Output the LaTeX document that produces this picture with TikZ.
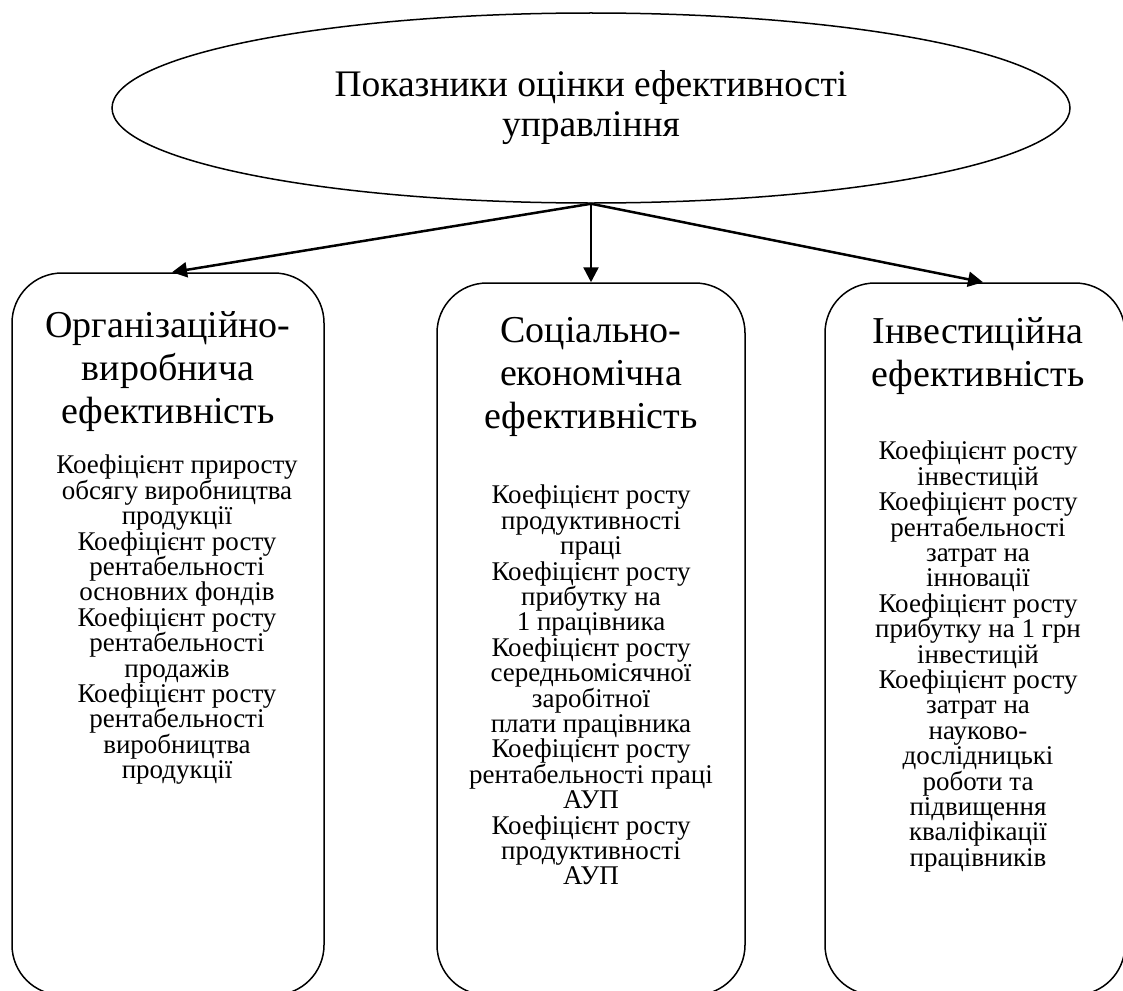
\documentclass[tikz,border=0pt]{standalone}
\usepackage{fontspec}
\setmainfont{Liberation Serif}
\usetikzlibrary{shapes.geometric,arrows.meta}
\tikzset{
  box/.style={draw, line width=1.5pt, rounded corners=50pt, inner sep=0pt},
  head/.style={align=center, font=\fontsize{38}{43}\selectfont, inner sep=0pt, anchor=north},
  body/.style={align=center, font=\fontsize{27}{25.4}\selectfont, inner sep=0pt, anchor=north},
  link/.style={-{Triangle[length=15pt,width=15pt]}, line width=2.5pt}
}
\begin{document}
\begin{tikzpicture}[x=1pt,y=1pt]
\useasboundingbox (0,0) rectangle (1123,-990);

\node[draw, ellipse, line width=1.5pt, minimum width=958pt, minimum height=190pt, inner sep=0pt,
  align=center, font=\fontsize{37.5}{40}\selectfont] (title) at (591,-108)
  {Показники оцінки ефективності\\управління};

\node[box, minimum width=312pt, minimum height=722pt] (org) at (168,-634) {};
\node[box, minimum width=308pt, minimum height=712pt] (soc) at (591,-639) {};
\node[box, minimum width=300pt, minimum height=712pt] (inv) at (975,-639) {};

\node[head] (orghead) at (168,-311) {Організаційно-\\виробнича\\ефективність};
\node[head] (sochead) at (591,-317) {Соціально-\\економічна\\ефективність};
\node[head] (invhead) at (978,-317) {Інвестиційна\\ефективність};

\node[body] (orgbody) at (177,-455) {Коефіцієнт приросту\\обсягу виробництва\\продукції\\
  Коефіцієнт росту\\рентабельності\\основних фондів\\
  Коефіцієнт росту\\рентабельності\\продажів\\
  Коефіцієнт росту\\рентабельності\\виробництва\\продукції};
\node[body] (socbody) at (591,-485) {Коефіцієнт росту\\продуктивності\\праці\\
  Коефіцієнт росту\\прибутку на\\1 працівника\\
  Коефіцієнт росту\\середньомісячної\\заробітної\\плати працівника\\
  Коефіцієнт росту\\рентабельності праці\\АУП\\
  Коефіцієнт росту\\продуктивності\\АУП};
\node[body] (invbody) at (978,-441) {Коефіцієнт росту\\інвестицій\\
  Коефіцієнт росту\\рентабельності\\затрат на\\інновації\\
  Коефіцієнт росту\\прибутку на 1 грн\\інвестицій\\
  Коефіцієнт росту\\затрат на\\науково-\\дослідницькі\\роботи та\\підвищення\\кваліфікації\\працівників};

\draw[link] (title.south) -- ([xshift=4pt]org.north);
\draw[link] (title.south) -- (title.south |- soc.north);
\draw[link] (title.south) -- ([xshift=8pt]inv.north);
\end{tikzpicture}
\end{document}
